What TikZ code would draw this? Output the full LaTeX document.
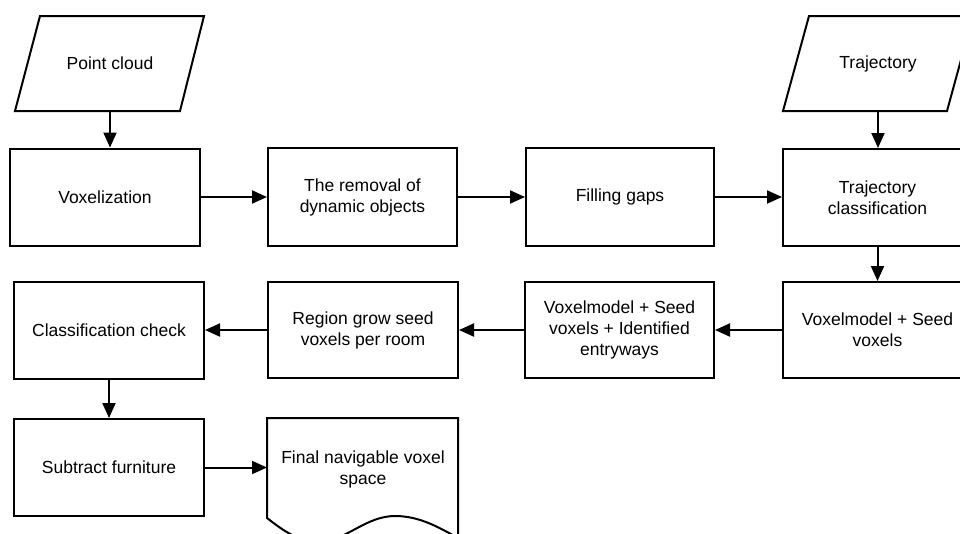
\documentclass[tikz,border=0pt]{standalone}
\usepackage{fontspec}
\setmainfont{Liberation Sans}
\usetikzlibrary{arrows.meta}
\begin{document}
\begin{tikzpicture}[x=1pt,y=-1pt,
  every node/.style={font=\fontsize{17.5}{21}\selectfont, align=center},
  box/.style={draw, line width=2pt, rectangle, inner sep=0pt, minimum width=190pt, minimum height=97pt},
  shp/.style={draw, line width=2pt, line join=miter},
  txt/.style={inner sep=0pt, minimum width=190pt, minimum height=95pt},
  arr/.style={line width=2pt, -{Triangle[length=15pt,width=13pt]}}]
\useasboundingbox (0,0) rectangle (960,533);
\clip (0,0) rectangle (960,533);
% input parallelograms
\draw[shp] (40,16) -- (204,16) -- (180,111) -- (15,111) -- cycle;
\node[txt] (pc) at (110,63.5) {Point cloud};
\draw[shp] (809,16) -- (973,16) -- (947,111) -- (783,111) -- cycle;
\node[txt] (tr) at (878,63.5) {Trajectory};
% row 1
\node[box] (vox) at (105,197) {Voxelization};
\node[box, minimum width=189pt, minimum height=98pt] (rem) at (362.5,197) {The removal of\\dynamic objects};
\node[box, minimum width=188pt, minimum height=98pt] (fill) at (620,197) {Filling gaps};
\node[box, minimum width=189pt] (tc) at (877.5,197.5) {Trajectory\\classification};
% row 2
\node[box, minimum width=189pt, minimum height=96pt] (vs) at (877.5,330) {Voxelmodel + Seed\\voxels};
\node[box, minimum width=189pt, minimum height=96pt] (vsi) at (619.5,330) {Voxelmodel + Seed\\voxels + Identified\\entryways};
\node[box, minimum width=190pt, minimum height=96pt] (rg) at (363,330) {Region grow seed\\voxels per room};
\node[box] (cc) at (109,330.5) {Classification check};
% row 3
\node[box] (sf) at (109,467.5) {Subtract furniture};
\draw[shp] (458,418) -- (267,418) -- (267,518)
  .. controls (285,532) and (300,542) .. (318,542)
  .. controls (345,542) and (365,516) .. (395,516)
  .. controls (420,516) and (440,528) .. (458,538) -- cycle;
\node (fin) at (363,469) {Final navigable voxel\\space};
\coordinate (finw) at (267,467.5);
% connectors
\draw[arr] (pc.south) -- (pc.south |- vox.north);
\draw[arr] (tr.south) -- (tr.south |- tc.north);
\draw[arr] (vox.east) -- (rem.west |- vox.east);
\draw[arr] (rem.east) -- (fill.west |- rem.east);
\draw[arr] (fill.east) -- (tc.west |- fill.east);
\draw[arr] (tc.south) -- (vs.north);
\draw[arr] (vs.west) -- (vsi.east |- vs.west);
\draw[arr] (vsi.west) -- (rg.east |- vsi.west);
\draw[arr] (rg.west) -- (cc.east |- rg.west);
\draw[arr] (cc.south) -- (sf.north);
\draw[arr] (sf.east) -- (finw);
\end{tikzpicture}
\end{document}
